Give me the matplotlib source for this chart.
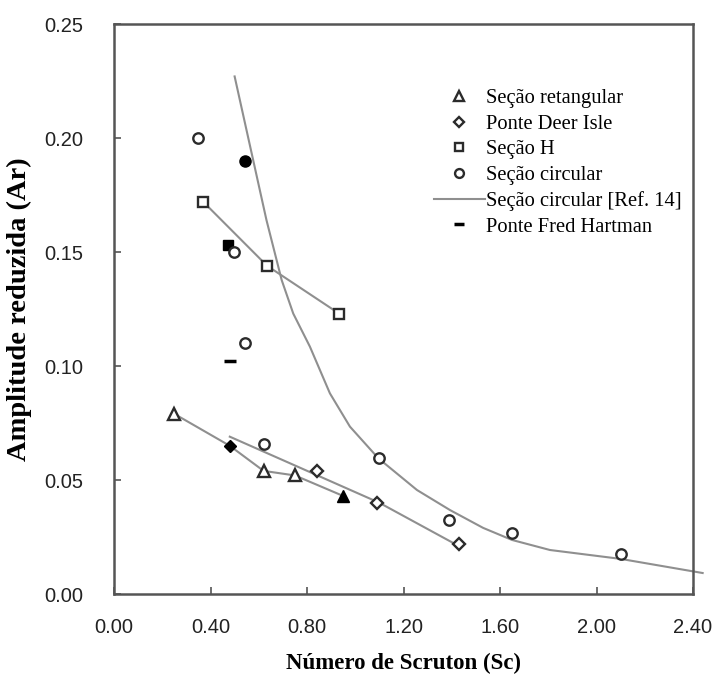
import matplotlib
matplotlib.use("Agg")
import matplotlib.pyplot as plt

# Seção retangular (triangles)
tri_x = [0.25, 0.62, 0.75]
tri_y = [0.079, 0.054, 0.052]
tri_fill_x = [0.95]
tri_fill_y = [0.043]
tri_line_x = [0.25, 0.48, 0.62, 0.75, 0.95]
tri_line_y = [0.079, 0.065, 0.054, 0.052, 0.043]

# Ponte Deer Isle (diamonds)
dia_x = [0.84, 1.09, 1.43]
dia_y = [0.054, 0.040, 0.022]
dia_fill_x = [0.48]
dia_fill_y = [0.065]
dia_line_x = [0.48, 1.10, 1.43]
dia_line_y = [0.069, 0.040, 0.021]

# Seção H (squares)
sq_x = [0.37, 0.634, 0.933]
sq_y = [0.172, 0.144, 0.123]
sq_fill_x = [0.473]
sq_fill_y = [0.153]

# Seção circular (circles)
circ_x = [0.348, 0.497, 0.543, 0.622, 1.098, 1.389, 1.65, 2.10]
circ_y = [0.200, 0.150, 0.110, 0.066, 0.0596, 0.0325, 0.0268, 0.0175]
circ_fill_x = [0.543]
circ_fill_y = [0.190]

# Seção circular [Ref. 14]
ref_x = [0.50, 0.632, 0.695, 0.743, 0.812, 0.895, 0.978, 1.096, 1.256,
         1.393, 1.53, 1.65, 1.807, 2.10, 2.44]
ref_y = [0.227, 0.164, 0.1377, 0.123, 0.1085, 0.088, 0.0734, 0.0595, 0.0456,
         0.0368, 0.029, 0.0237, 0.0193, 0.0154, 0.0092]

# Ponte Fred Hartman
fh_x = [0.481]
fh_y = [0.102]

x_ticks = [0.0, 0.4, 0.8, 1.2, 1.6, 2.0, 2.4]
y_ticks = [0.0, 0.05, 0.10, 0.15, 0.20, 0.25]

line_c = "#8f8f8f"
edge_c = "#2b2b2b"
serif = ["Liberation Serif", "DejaVu Serif"]
sans = ["Liberation Sans", "DejaVu Sans"]

fig = plt.figure(figsize=(7.18, 6.77), dpi=100)
ax = fig.add_axes([114 / 718, 1 - 594 / 677, 579 / 718, 570 / 677])

ms = 7.5
mew = 1.7
ax.plot(tri_line_x, tri_line_y, color=line_c, lw=1.5, zorder=1)
ax.plot(dia_line_x, dia_line_y, color=line_c, lw=1.5, zorder=1)
ax.plot(sq_x, sq_y, color=line_c, lw=1.5, zorder=1)
ax.plot(ref_x, ref_y, color=line_c, lw=1.5, zorder=1, clip_on=False,
        label="Seção circular [Ref. 14]")

ax.plot(tri_x, tri_y, "^", ms=ms + 1, mfc="white", mec=edge_c, mew=mew, ls="none",
        label="Seção retangular")
ax.plot(tri_fill_x, tri_fill_y, "^", ms=ms + 1, mfc="black", mec="black", ls="none")
ax.plot(dia_x, dia_y, "D", ms=ms - 1.5, mfc="white", mec=edge_c, mew=mew, ls="none",
        label="Ponte Deer Isle")
ax.plot(dia_fill_x, dia_fill_y, "D", ms=ms - 1.5, mfc="black", mec="black", ls="none")
ax.plot(sq_x, sq_y, "s", ms=ms, mfc="white", mec=edge_c, mew=mew, ls="none",
        label="Seção H")
ax.plot(sq_fill_x, sq_fill_y, "s", ms=ms, mfc="black", mec="black", ls="none")
ax.plot(circ_x, circ_y, "o", ms=ms, mfc="white", mec=edge_c, mew=mew, ls="none",
        label="Seção circular")
ax.plot(circ_fill_x, circ_fill_y, "o", ms=ms + 0.5, mfc="black", mec="black", ls="none")
ax.plot(fh_x, fh_y, "_", ms=8, mec="black", mew=2.5, ls="none",
        label="Ponte Fred Hartman")

ax.set_xlim(0, 2.4)
ax.set_ylim(0, 0.25)
ax.set_xticks(x_ticks)
ax.set_yticks(y_ticks)
ax.set_xticklabels([f"{v:.2f}" for v in x_ticks], family=sans, fontsize=14.5, color="#222222")
ax.set_yticklabels([f"{v:.2f}" for v in y_ticks], family=sans, fontsize=14.5, color="#222222")
ax.tick_params(axis="both", direction="in", length=5, width=1.2, color="#555555")
ax.tick_params(axis="x", pad=17)
ax.tick_params(axis="y", pad=22)
for s in ax.spines.values():
    s.set_color("#555555")
    s.set_linewidth(1.8)

ax.set_xlabel("Número de Scruton (Sc)", family=serif, fontweight="bold",
              fontsize=16.5, labelpad=12)
ax.set_ylabel("Amplitude reduzida (Ar)", family=serif, fontweight="bold",
              fontsize=20.5, labelpad=9)

handles, labels = ax.get_legend_handles_labels()
order = ["Seção retangular", "Ponte Deer Isle", "Seção H", "Seção circular",
         "Seção circular [Ref. 14]", "Ponte Fred Hartman"]
hmap = dict(zip(labels, handles))
ax.legend([hmap[k] for k in order], order, loc="upper left",
          bbox_to_anchor=(0.552, 0.886), frameon=False, borderpad=0,
          borderaxespad=0, handlelength=2.5, handletextpad=0.05,
          labelspacing=0.3, prop={"family": serif, "size": 14.8}, markerscale=0.85)

fig.savefig("out.png", dpi=100)
